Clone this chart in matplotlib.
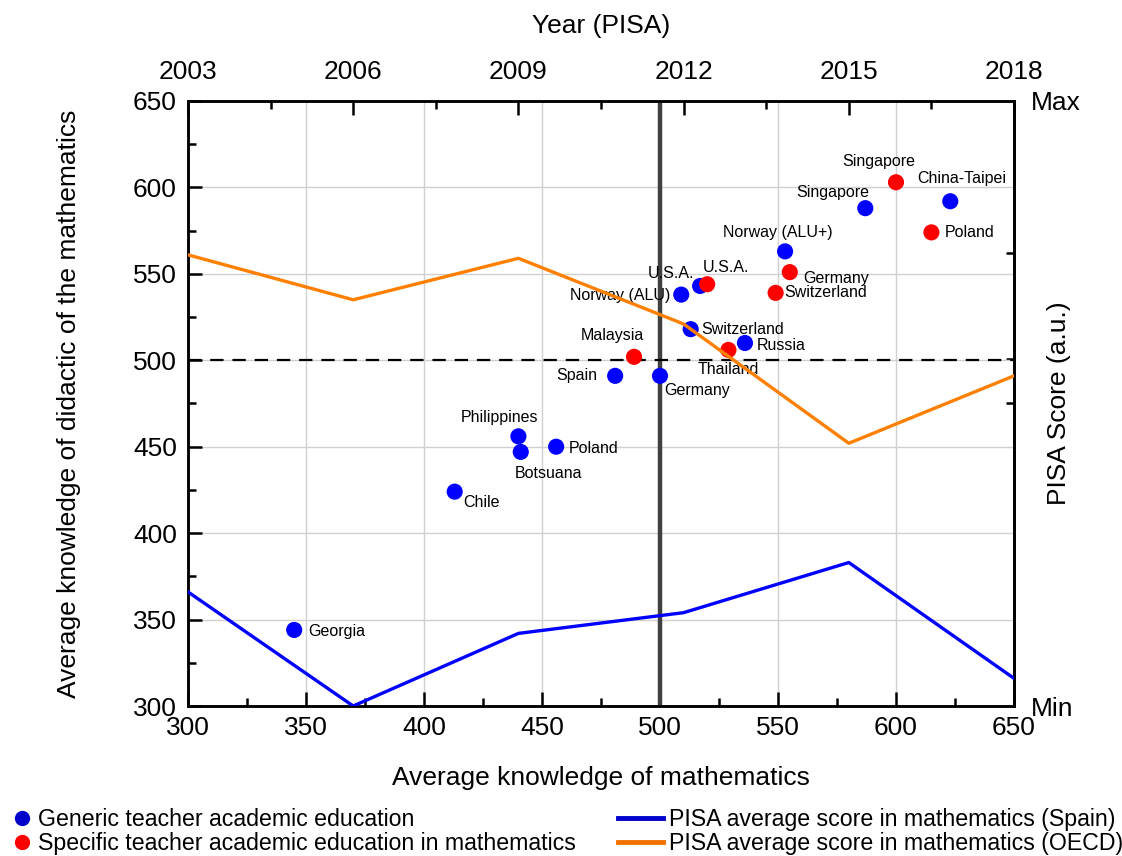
import matplotlib
matplotlib.use('Agg')
import matplotlib.pyplot as plt
from matplotlib.lines import Line2D

plt.rcParams['font.family'] = ['Liberation Sans', 'DejaVu Sans']

# countries with generic teacher education (blue)
gen_names = ['Georgia', 'Chile', 'Philippines', 'Botsuana', 'Poland', 'Spain',
             'Germany', 'Norway (ALU)', 'U.S.A.', 'Switzerland', 'Russia',
             'Norway (ALU+)', 'Singapore', 'China-Taipei']
gen_math = [345, 413, 440, 441, 456, 481, 500, 509, 517, 513, 536, 553, 587, 623]
gen_didac = [344, 424, 456, 447, 450, 491, 491, 538, 543, 518, 510, 563, 588, 592]

# countries with specific teacher education in mathematics (red)
spe_names = ['Malaysia', 'U.S.A.', 'Thailand', 'Switzerland', 'Germany',
             'Singapore', 'Poland']
spe_math = [489, 520, 529, 549, 555, 600, 615]
spe_didac = [502, 544, 506, 539, 551, 603, 574]

# PISA series
years = [2003, 2006, 2009, 2012, 2015, 2018]
pisa_spain = [366, 300, 342, 354, 383, 316]
pisa_oecd = [561, 535, 559, 521, 452, 491]

# label offsets in pixels (dx, dy) and alignment
gen_off = [(14, -2, 'left'), (9, -11, 'left'), (-19, 19, 'center'), (28, -22, 'center'),
           (13, -2, 'left'), (-18, 0, 'right'), (4, -15, 'left'), (-11, -1, 'right'),
           (-29, 12, 'center'), (11, 0, 'left'), (12, -2, 'left'), (-7, 19, 'center'),
           (-33, 16, 'center'), (11, 23, 'center')]
spe_off = [(-22, 21, 'center'), (19, 17, 'center'), (0, -20, 'center'), (9, 0, 'left'),
           (13, -6, 'left'), (-17, 21, 'center'), (13, 0, 'left')]

blue = '#0000ff'
red = '#ff0000'
orange = '#ff8000'

fig = plt.figure(figsize=(11.22, 8.56), dpi=100)
ax = fig.add_axes([188 / 1122, 1 - 706 / 856, 826 / 1122, 605 / 856])

ax.set_xlim(300, 650)
ax.set_ylim(300, 650)
ax.set_xticks(range(300, 651, 50))
ax.set_yticks(range(300, 651, 50))
ax.set_xticks(range(325, 650, 50), minor=True)
ax.set_yticks(range(325, 650, 50), minor=True)
ax.grid(True, color='#d0d0d0', lw=1)
ax.set_axisbelow(True)

ax.axvline(500, color='#404040', lw=3.2, zorder=1.5)
ax.axhline(500, color='black', lw=1.6, ls=(0, (6, 4)), zorder=1.5)

ax.scatter(gen_math, gen_didac, s=135, color=blue, edgecolors='none', zorder=3)
ax.scatter(spe_math, spe_didac, s=135, color=red, edgecolors='none', zorder=3)

for n, x, y, (dx, dy, ha) in zip(gen_names, gen_math, gen_didac, gen_off):
    ax.annotate(n, (x, y), xytext=(dx, dy), textcoords='offset pixels',
                ha=ha, va='center', fontsize=11.5, zorder=4)
for n, x, y, (dx, dy, ha) in zip(spe_names, spe_math, spe_didac, spe_off):
    ax.annotate(n, (x, y), xytext=(dx, dy), textcoords='offset pixels',
                ha=ha, va='center', fontsize=11.5, zorder=4)

for s in ax.spines.values():
    s.set_linewidth(1.8)
ax.tick_params(which='both', direction='in', width=1.8, labelsize=19)
ax.tick_params(which='major', length=10)
ax.tick_params(which='minor', length=6)
ax.tick_params(axis='y', pad=8, right=False)
ax.tick_params(axis='x', pad=7, top=False)

ax.set_xlabel('Average knowledge of mathematics', fontsize=19)
ax.set_ylabel('Average knowledge of didactic of the mathematics', fontsize=19)
ax.xaxis.set_label_coords(0.5, -0.10)
ax.yaxis.set_label_coords(-0.129, 0.5)

# top axis: PISA years
axt = ax.twiny()
axt.set_xlim(2003, 2018)
axt.set_xticks(years)
axt.set_xticks([2004.5, 2007.5, 2010.5, 2013.5, 2016.5], minor=True)
axt.plot(years, pisa_spain, color=blue, lw=2.4, zorder=5)
axt.plot(years, pisa_oecd, color=orange, lw=2.4, zorder=5)
axt.tick_params(which='both', direction='in', width=1.8, labelsize=19, pad=12)
axt.tick_params(which='major', length=10)
axt.tick_params(which='minor', length=6)
axt.set_xlabel('Year (PISA)', fontsize=19)
axt.xaxis.set_label_coords(0.5, 1.112)
for s in axt.spines.values():
    s.set_linewidth(1.8)

# right axis: Min / Max
axr = ax.secondary_yaxis('right')
axr.set_yticks([300, 650])
axr.set_yticklabels(['Min', 'Max'])
axr.set_yticks([475, 501, 562], minor=True)
axr.tick_params(which='both', direction='in', width=1.8, labelsize=19, pad=12)
axr.tick_params(which='major', length=0)
axr.tick_params(which='minor', length=6)
axr.spines['right'].set_linewidth(1.8)
axr.set_ylabel('PISA Score (a.u.)', fontsize=19)
axr.yaxis.set_label_coords(1.04, 0.5, transform=ax.transAxes)

# legends
h1 = [Line2D([], [], ls='none', marker='o', ms=11, color='#0000cc', mec='none'),
      Line2D([], [], ls='none', marker='o', ms=11, color=red, mec='none')]
leg1 = fig.legend(h1, ['Generic teacher academic education',
                       'Specific teacher academic education in mathematics'],
                  loc='upper left', bbox_to_anchor=(0.006, 0.064), frameon=False,
                  fontsize=16.7, handlelength=0.7, handletextpad=0.35,
                  labelspacing=0.05, borderaxespad=0, borderpad=0.3)
h2 = [Line2D([], [], color='#0000cc', lw=3.5), Line2D([], [], color='#f07000', lw=3.5)]
leg2 = fig.legend(h2, ['PISA average score in mathematics (Spain)',
                       'PISA average score in mathematics (OECD)'],
                  loc='upper left', bbox_to_anchor=(0.545, 0.064), frameon=False,
                  fontsize=16.7, handlelength=1.9, handletextpad=0.3,
                  labelspacing=0.05, borderaxespad=0, borderpad=0.3)

fig.savefig('out.png', dpi=100)
